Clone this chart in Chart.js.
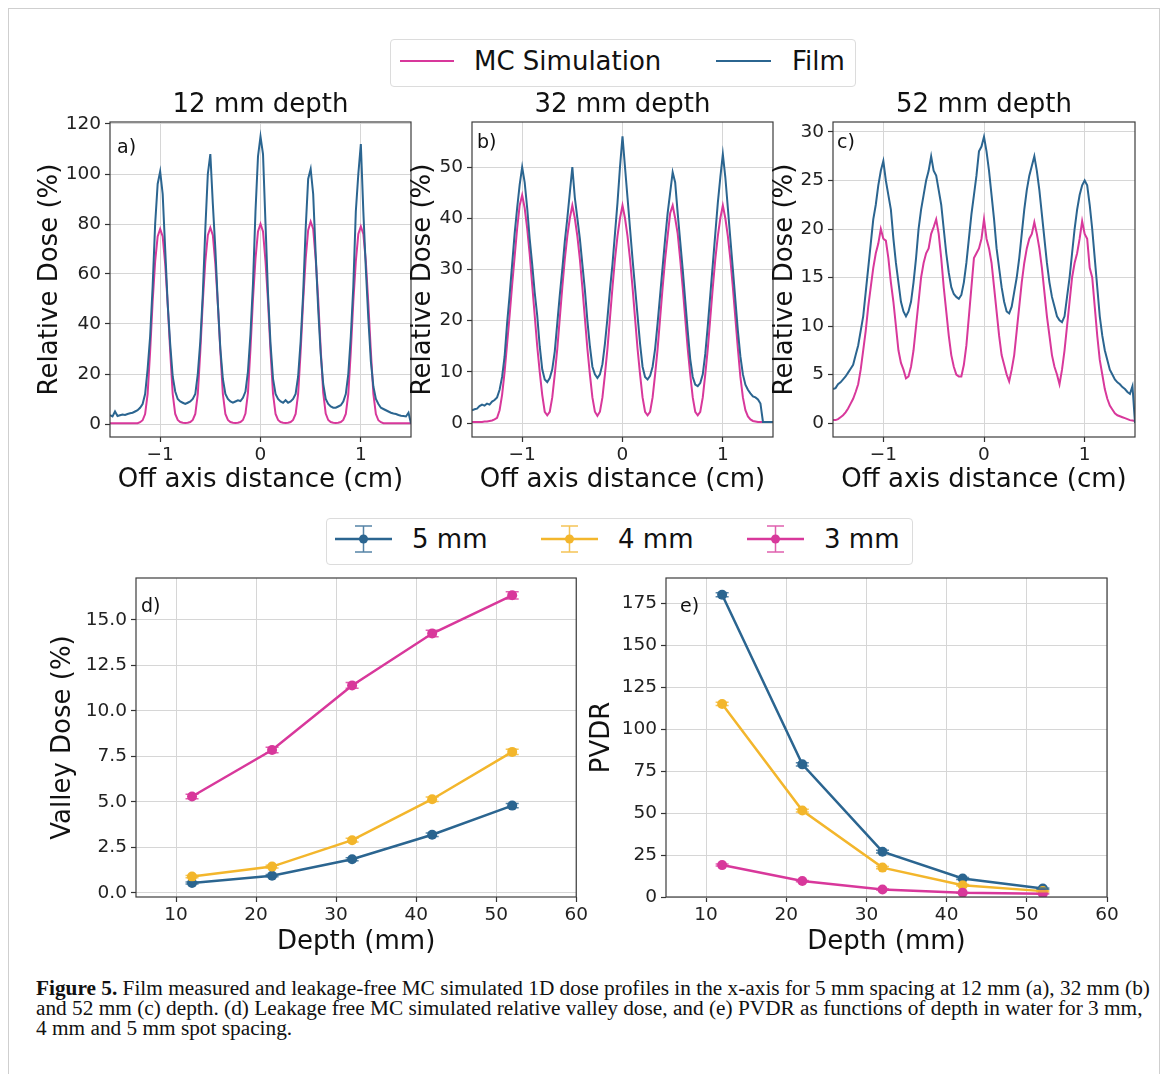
<!DOCTYPE html>
<html lang="en">
<head>
<meta charset="UTF-8">
<title>Figure 5 - dose profiles, valley dose and PVDR</title>
<script src="https://cdn.jsdelivr.net/npm/chart.js"></script>
<style>
    body { margin: 0; width: 1168px; height: 1074px; background: #fff; position: relative; overflow: hidden;
           font-family: 'DejaVu Sans', sans-serif; color: #111; }
    #frame { position: absolute; left: 8px; top: 8px; width: 1150px; height: 1100px; border: 1.5px solid #cfcfcf; }
    canvas { position: absolute; }
    .legend { position: absolute; border: 1px solid #dcdcdc; border-radius: 4px; background: #fff; }
    .txt { position: absolute; font-size: 26px; line-height: 30px; white-space: nowrap; color: #111; }
    .swatch { position: absolute; height: 2px; }
    .handle { position: absolute; }
    .caption { position: absolute; left: 36px; font-family: 'Liberation Serif', serif; font-size: 21.3px;
               line-height: 20px; white-space: nowrap; color: #111; }
</style>
</head>
<body>
<div id="frame"></div>

<div class="legend" style="left:390px;top:39px;width:464px;height:46px;"></div>
<div class="swatch" style="left:400px;top:60px;width:54px;background:#d8389b;"></div>
<div class="txt" style="left:474px;top:46px;">MC Simulation</div>
<div class="swatch" style="left:716px;top:60px;width:55px;background:#2b6590;"></div>
<div class="txt" style="left:792px;top:46px;">Film</div>

<canvas id="chartA" width="406" height="415" style="left:14px;top:85px;"></canvas>
<canvas id="chartB" width="383" height="415" style="left:400px;top:85px;"></canvas>
<canvas id="chartC" width="390" height="415" style="left:760px;top:85px;"></canvas>

<div class="legend" style="left:326px;top:518px;width:585px;height:45px;"></div>
<div id="legend2"></div>

<canvas id="chartD" width="570" height="425" style="left:20px;top:540px;"></canvas>
<canvas id="chartE" width="560" height="425" style="left:570px;top:540px;"></canvas>

<div class="caption" style="top:978px;"><b>Figure 5.</b> Film measured and leakage-free MC simulated 1D dose profiles in the x-axis for 5 mm spacing at 12 mm (a), 32 mm (b)</div>
<div class="caption" style="top:998px;">and 52 mm (c) depth. (d) Leakage free MC simulated relative valley dose, and (e) PVDR as functions of depth in water for 3 mm,</div>
<div class="caption" style="top:1018px;">4 mm and 5 mm spot spacing.</div>

<script>
// off axis positions (cm), shared by all profiles
const POS = [
    -1.5, -1.475, -1.45, -1.425, -1.4, -1.375, -1.35, -1.325, -1.3, -1.275,
    -1.25, -1.225, -1.2, -1.175, -1.15, -1.125, -1.1, -1.075, -1.05, -1.025,
    -1, -0.975, -0.95, -0.925, -0.9, -0.875, -0.85, -0.825, -0.8, -0.775,
    -0.75, -0.725, -0.7, -0.675, -0.65, -0.625, -0.6, -0.575, -0.55, -0.525,
    -0.5, -0.475, -0.45, -0.425, -0.4, -0.375, -0.35, -0.325, -0.3, -0.275,
    -0.25, -0.225, -0.2, -0.175, -0.15, -0.125, -0.1, -0.075, -0.05, -0.025,
    0, 0.025, 0.05, 0.075, 0.1, 0.125, 0.15, 0.175, 0.2, 0.225,
    0.25, 0.275, 0.3, 0.325, 0.35, 0.375, 0.4, 0.425, 0.45, 0.475,
    0.5, 0.525, 0.55, 0.575, 0.6, 0.625, 0.65, 0.675, 0.7, 0.725,
    0.75, 0.775, 0.8, 0.825, 0.85, 0.875, 0.9, 0.925, 0.95, 0.975,
    1, 1.025, 1.05, 1.075, 1.1, 1.125, 1.15, 1.175, 1.2, 1.225,
    1.25, 1.275, 1.3, 1.325, 1.35, 1.375, 1.4, 1.425, 1.45, 1.475,
    1.5
];

// 12 mm depth
const MC_12 = [
    0.3, 0.3, 0.3, 0.3, 0.3, 0.3, 0.3, 0.3, 0.3, 0.3,
    0.3, 0.3, 0.7, 1.5, 4, 12, 29, 49, 65, 75,
    78, 75, 64, 48, 29, 12, 4, 1.6, 0.8, 0.5,
    0.4, 0.5, 0.8, 1.6, 4, 12, 29, 49, 65, 75.5,
    78.5, 75.5, 64, 48, 29, 12, 4, 1.6, 0.8, 0.5,
    0.4, 0.5, 0.8, 1.6, 4.2, 12.5, 30, 50, 66, 77,
    80, 77, 65, 49, 29, 12, 4, 1.6, 0.8, 0.5,
    0.4, 0.5, 0.8, 1.6, 4, 12, 29, 49, 66, 77.5,
    81, 78, 66, 50, 30, 12.5, 4.2, 1.6, 0.8, 0.5,
    0.4, 0.5, 0.8, 1.6, 4, 12, 29, 49, 65, 76,
    79, 76, 65, 48, 29, 12, 4, 1.5, 0.7, 0.3,
    0.3, 0.3, 0.3, 0.3, 0.3, 0.3, 0.3, 0.3, 0.3, 0.3,
    0.3
];
const FILM_12 = [
    3.5, 3.0, 5.0, 3.2, 3.5, 3.8, 3.6, 4.0, 4.3, 4.5,
    5.0, 5.5, 6.5, 8, 12, 22, 35, 55, 80, 96,
    101, 92, 70, 48, 32, 19, 13, 10, 9, 8.5,
    8, 8.5, 9, 10, 12, 20, 33, 52, 78, 100,
    108, 88, 70, 48, 30, 18, 12, 10, 9, 8.5,
    9, 9.5, 9.2, 10.5, 13, 21, 36, 56, 85, 107,
    115, 108, 80, 52, 32, 18, 12, 10, 9, 8.5,
    9.5, 8.5, 9, 10, 12, 19, 33, 52, 78, 98,
    102, 92, 68, 46, 28, 16, 10, 8, 7, 6.5,
    6.5, 7, 7.5, 9, 12, 20, 35, 55, 85, 100,
    112, 85, 62, 42, 25, 15, 10, 8, 6.5, 6,
    5.5, 5, 4.5, 4.2, 4, 3.6, 3.3, 3.2, 3, 4.5,
    0.2
];

// 32 mm depth
const MC_32 = [
    0.2, 0.2, 0.2, 0.2, 0.2, 0.3, 0.3, 0.4, 0.5, 0.7,
    1.0, 2.5, 5.5, 10, 15.5, 21, 27, 32.5, 38, 42.5,
    44.5, 42, 38, 33, 27, 21, 15, 10, 5.5, 2.2,
    1.5, 2.2, 5, 9.5, 14.5, 20.5, 26.5, 32, 36.5, 40,
    42.5, 40, 36.5, 32, 26.5, 20.5, 14.5, 9.5, 5, 2.2,
    1.4, 2.2, 5, 9.5, 14.5, 20.5, 26.5, 32, 36.5, 40,
    42.5, 40, 36.5, 32, 26.5, 20.5, 14.5, 9.5, 5, 2.2,
    1.5, 2.2, 5, 9.5, 14.5, 20.5, 26.5, 32, 36.5, 41,
    42.5, 40, 37, 32, 26.5, 20.5, 14.5, 9.5, 5, 2.2,
    1.5, 2.2, 5, 9.5, 14.5, 20.5, 26.5, 32, 36.5, 40,
    42.5, 40, 36.5, 32, 26.5, 20.5, 14.5, 9, 5, 2.5,
    1.3, 0.7, 0.4, 0.3, 0.2, 0.2, 0.2, 0.2, 0.2, 0.2,
    0.2
];
const FILM_32 = [
    2.5, 2.7, 2.8, 3.3, 3.6, 3.4, 3.8, 3.6, 4.2, 4.5,
    5, 6.5, 9, 13, 19.5, 25, 31, 37, 42, 46.5,
    50, 47, 42, 36, 31, 25.5, 21, 15, 10.5, 8.5,
    8, 8.8, 10.5, 14, 19.5, 25, 30, 35.5, 40, 45,
    50, 44, 40, 36, 31, 26, 20, 15, 11, 9.5,
    8.8, 9.5, 11.5, 15.5, 20.5, 26, 31, 37, 43, 50,
    56, 50, 44, 38, 32, 26.5, 21, 15.5, 11, 9,
    8.5, 9.2, 11, 14.5, 19.5, 25, 30.5, 36, 41, 45,
    49, 47, 41, 35.5, 30, 24, 18, 12.5, 9, 7.5,
    7.2, 7.8, 9.5, 13.5, 19, 25, 31, 37, 43, 48,
    52.5, 48, 42, 36, 30, 24, 18, 13, 9.5, 7.5,
    6.5, 5.8, 5.2, 5, 4.6, 3.8, 0.2, 0.2, 0.2, 0.2,
    0.2
];

// 52 mm depth
const MC_52 = [
    0.3, 0.3, 0.4, 0.6, 0.8, 1.1, 1.5, 2.0, 2.5, 3.2,
    4, 5.5, 7.5, 9.5, 12, 14, 16, 17.5, 18.5, 20,
    19, 18.8, 17, 14.5, 12.5, 10, 7.5, 6.2, 5.5, 4.6,
    4.8, 5.8, 7.5, 10, 12.5, 15, 16.5, 17.5, 18, 19.5,
    20.2, 21, 19.5, 17, 14, 11.5, 9, 7, 5.8, 5,
    4.8, 4.8, 6, 8, 11, 14, 17, 17.5, 18, 19,
    21, 19, 18, 16.5, 14, 11.5, 9, 7, 6, 5,
    4.3, 5.5, 7, 9.5, 12, 14.5, 16.5, 18, 19, 19.5,
    20.7, 19.5, 18, 16, 13.5, 11, 9, 7, 5.8, 5,
    4, 5.5, 7.5, 10, 12.5, 15, 16.5, 17.5, 19, 20.8,
    19.5, 19, 16, 15, 12, 9, 6.5, 5, 3.5, 2.5,
    1.8, 1.4, 1.0, 0.8, 0.7, 0.6, 0.5, 0.4, 0.3, 0.25,
    0.2
];
const FILM_52 = [
    3.5, 3.6, 4, 4.2, 4.5, 4.8, 5.2, 5.6, 6, 7,
    8, 9.5, 11, 13.5, 16, 18.5, 21, 22.5, 24.5, 26,
    27, 25, 23.5, 22, 19, 16.5, 14.5, 12.5, 11.5, 11,
    11.5, 12.5, 14.5, 17, 20, 22, 23.5, 25, 26, 27.5,
    26, 25.5, 24, 22.5, 20, 17.5, 15.5, 14, 13.3, 13,
    12.8, 13.2, 14.5, 16.5, 19, 21.5, 23.5, 25.5, 28, 28.5,
    29.5, 28, 26, 23.5, 21, 18, 16, 14, 12.5, 11.5,
    11.3, 12, 13.5, 15, 17, 19.5, 22, 24, 25.5, 26.5,
    27.5, 26, 24, 21.5, 19, 16.5, 14.5, 13, 12, 11,
    10.6, 10.4, 11, 13, 15, 17.5, 20, 22, 23.5, 24.5,
    25, 24.5, 22.5, 20, 17, 14, 11, 9, 7.5, 6.5,
    5.5, 5, 4.5, 4.2, 4, 3.7, 3.5, 3.2, 3, 3.8,
    0
];

// depth series (mm)
const DEPTHS = [12, 22, 32, 42, 52];
const VALLEY_5MM = [0.55, 0.95, 1.85, 3.2, 4.8];
const VALLEY_4MM = [0.9, 1.45, 2.9, 5.15, 7.75];
const VALLEY_3MM = [5.3, 7.85, 11.4, 14.25, 16.35];
const VALLEY_ERR_5MM = [0.05, 0.06, 0.08, 0.1, 0.12];
const VALLEY_ERR_4MM = [0.06, 0.08, 0.1, 0.12, 0.15];
const VALLEY_ERR_3MM = [0.12, 0.15, 0.16, 0.18, 0.2];
const PVDR_5MM = [180, 79, 27, 11, 5];
const PVDR_4MM = [115, 51.5, 17.5, 7, 3.5];
const PVDR_3MM = [19, 9.5, 4.5, 2.5, 2];
const PVDR_ERR_5MM = [1.2, 1.0, 0.8, 0.6, 0.4];
const PVDR_ERR_4MM = [1.0, 0.8, 0.6, 0.4, 0.3];
const PVDR_ERR_3MM = [0.6, 0.4, 0.3, 0.2, 0.2];

// tick labels
const X_TICKS_PROFILE = [-1, 0, 1];
const Y_TICKS_12 = [0, 20, 40, 60, 80, 100, 120];
const Y_TICKS_32 = [0, 10, 20, 30, 40, 50];
const Y_TICKS_52 = [0, 5, 10, 15, 20, 25, 30];
const X_TICKS_DEPTH = [10, 20, 30, 40, 50, 60];
const Y_TICKS_VALLEY = [0, 2.5, 5, 7.5, 10, 12.5, 15];
const Y_TICKS_PVDR = [0, 25, 50, 75, 100, 125, 150, 175];

const SPACING_LABELS = ['5 mm', '4 mm', '3 mm'];

const BLUE = '#2b6590';
const PINK = '#d8389b';
const GOLD = '#f3b62c';

Chart.defaults.font.family = "'DejaVu Sans', sans-serif";
Chart.defaults.color = '#222';

// frame around the plot area, error bars, panel letter and title
const panelPlugin = {
    id: 'panel',
    afterDatasetsDraw(chart, args, opts) {
        const { ctx, chartArea: a } = chart;
        ctx.save();
        chart.data.datasets.forEach((ds, i) => {
            if (!ds.errors) return;
            const meta = chart.getDatasetMeta(i);
            const ys = chart.scales.y;
            ctx.strokeStyle = ds.borderColor;
            ctx.globalAlpha = 0.8;
            ctx.lineWidth = 1.5;
            meta.data.forEach((pt, j) => {
                const v = ds.data[j].y, e = ds.errors[j];
                const y1 = ys.getPixelForValue(v - e), y2 = ys.getPixelForValue(v + e);
                ctx.beginPath();
                ctx.moveTo(pt.x, y1); ctx.lineTo(pt.x, y2);
                ctx.moveTo(pt.x - 6.5, y1); ctx.lineTo(pt.x + 6.5, y1);
                ctx.moveTo(pt.x - 6.5, y2); ctx.lineTo(pt.x + 6.5, y2);
                ctx.stroke();
            });
        });
        ctx.globalAlpha = 1;
        ctx.strokeStyle = '#3c3c3c';
        ctx.lineWidth = 1.2;
        ctx.strokeRect(a.left, a.top, a.right - a.left, a.bottom - a.top);
        ctx.fillStyle = '#111';
        ctx.textBaseline = 'middle';
        ctx.font = "19px 'DejaVu Sans'";
        ctx.textAlign = 'left';
        ctx.fillText(opts.tag, a.left + opts.tagDx, a.top + opts.tagDy);
        if (opts.title) {
            ctx.font = "26px 'DejaVu Sans'";
            ctx.textAlign = 'center';
            ctx.fillText(opts.title, (a.left + a.right) / 2, a.top - 17);
        }
        ctx.restore();
    }
};

function fmtSigned(v) {
    return v < 0 ? '\u2212' + Math.abs(v) : String(v);
}

function buildScales(g, xMin, xMax, xTicks, xLabel, yMin, yMax, yTicks, yLabel, yFmt) {
    const grid = { color: '#d6d6d6', lineWidth: 1, tickLength: 5, tickColor: '#333', tickWidth: 1.2 };
    return {
        x: {
            type: 'linear', min: xMin, max: xMax,
            afterBuildTicks: s => { s.ticks = xTicks.map(v => ({ value: v })); },
            afterFit: s => { s.height = g.H; },
            grid: grid,
            border: { display: false },
            ticks: { font: { size: 18.5 }, color: '#222', padding: 2, maxRotation: 0, autoSkip: false, callback: fmtSigned },
            title: { display: true, text: xLabel, font: { size: 26 }, color: '#111', padding: { top: 0, bottom: g.xPad } }
        },
        y: {
            type: 'linear', min: yMin, max: yMax,
            afterBuildTicks: s => { s.ticks = yTicks.map(v => ({ value: v })); },
            afterFit: s => { s.width = g.W; },
            grid: grid,
            border: { display: false },
            ticks: { font: { size: 18.5 }, color: '#222', padding: 4, autoSkip: false, callback: yFmt },
            title: { display: true, text: yLabel, font: { size: 26 }, color: '#111', padding: { top: g.yPad, bottom: 0 } }
        }
    };
}

function profileChart(id, mc, film, yMin, yMax, yTicks, title, tag, g) {
    const ctx = document.getElementById(id).getContext('2d');
    return new Chart(ctx, {
        type: 'line',
        data: {
            datasets: [
                { label: 'Film', data: POS.map((x, i) => ({ x: x, y: film[i] })), borderColor: BLUE, borderWidth: 2, pointRadius: 0, tension: 0 },
                { label: 'MC Simulation', data: POS.map((x, i) => ({ x: x, y: mc[i] })), borderColor: PINK, borderWidth: 2, pointRadius: 0, tension: 0 }
            ]
        },
        options: {
            responsive: false,
            animation: false,
            layout: { padding: { top: g.top, right: g.right, left: 0, bottom: 0 } },
            scales: buildScales(g, -1.5, 1.5, X_TICKS_PROFILE, 'Off axis distance (cm)', yMin, yMax, yTicks, 'Relative Dose (%)', v => String(v)),
            plugins: {
                legend: { display: false },
                tooltip: { enabled: false },
                panel: { tag: tag, tagDx: g.tagDx, tagDy: g.tagDy, title: title }
            }
        },
        plugins: [panelPlugin]
    });
}

function depthChart(id, s5, s4, s3, e5, e4, e3, yMin, yMax, yTicks, yLabel, yFmt, tag, g) {
    const ctx = document.getElementById(id).getContext('2d');
    const mk = (label, vals, errs, color) => ({
        label: label,
        data: DEPTHS.map((d, i) => ({ x: d, y: vals[i] })),
        errors: errs,
        borderColor: color, backgroundColor: color,
        borderWidth: 2.5, pointRadius: 5, pointBorderWidth: 0, pointBackgroundColor: color, tension: 0
    });
    return new Chart(ctx, {
        type: 'line',
        data: {
            datasets: [
                mk(SPACING_LABELS[2], s3, e3, PINK),
                mk(SPACING_LABELS[1], s4, e4, GOLD),
                mk(SPACING_LABELS[0], s5, e5, BLUE)
            ]
        },
        options: {
            responsive: false,
            animation: false,
            layout: { padding: { top: g.top, right: g.right, left: 0, bottom: 0 } },
            scales: buildScales(g, 5, 60, X_TICKS_DEPTH, 'Depth (mm)', yMin, yMax, yTicks, yLabel, yFmt),
            plugins: {
                legend: { display: false },
                tooltip: { enabled: false },
                panel: { tag: tag, tagDx: g.tagDx, tagDy: g.tagDy }
            }
        },
        plugins: [panelPlugin]
    });
}

profileChart('chartA', MC_12, FILM_12, -5.2, 120.8, Y_TICKS_12, '12 mm depth', 'a)',
    { W: 96, top: 37, right: 9, H: 63, yPad: 20.4, xPad: 4.4, tagDx: 7, tagDy: 26 });
profileChart('chartB', MC_32, FILM_32, -2.73, 58.8, Y_TICKS_32, '32 mm depth', 'b)',
    { W: 72, top: 37, right: 10, H: 63, yPad: 7.4, xPad: 4.4, tagDx: 5, tagDy: 21 });
profileChart('chartC', MC_52, FILM_52, -1.44, 31.03, Y_TICKS_52, '52 mm depth', 'c)',
    { W: 73, top: 37, right: 15, H: 63, yPad: 9.4, xPad: 4.4, tagDx: 4, tagDy: 21 });

depthChart('chartD', VALLEY_5MM, VALLEY_4MM, VALLEY_3MM, VALLEY_ERR_5MM, VALLEY_ERR_4MM, VALLEY_ERR_3MM,
    -0.22, 17.3, Y_TICKS_VALLEY, 'Valley Dose (%)', v => v.toFixed(1), 'd)',
    { W: 116, top: 38, right: 13, H: 68, yPad: 27.4, xPad: 7.4, tagDx: 5, tagDy: 29 });
depthChart('chartE', PVDR_5MM, PVDR_4MM, PVDR_3MM, PVDR_ERR_5MM, PVDR_ERR_4MM, PVDR_ERR_3MM,
    0, 190, Y_TICKS_PVDR, 'PVDR', v => String(v), 'e)',
    { W: 96, top: 38, right: 23, H: 68, yPad: 16.4, xPad: 7.4, tagDx: 14, tagDy: 29 });

// errorbar legend for the spacing series
const legendItems = [
    { label: SPACING_LABELS[0], color: BLUE, left: 335 },
    { label: SPACING_LABELS[1], color: GOLD, left: 541 },
    { label: SPACING_LABELS[2], color: PINK, left: 747 }
];
const holder = document.getElementById('legend2');
legendItems.forEach(item => {
    holder.insertAdjacentHTML('beforeend',
        '<svg class="handle" style="left:' + item.left + 'px;top:524px" width="57" height="30">' +
        '<line x1="0" y1="15" x2="57" y2="15" stroke="' + item.color + '" stroke-width="2.5"/>' +
        '<g stroke="' + item.color + '" stroke-width="1.5" opacity="0.8">' +
        '<line x1="28.5" y1="2" x2="28.5" y2="28"/><line x1="20" y1="2" x2="37" y2="2"/><line x1="20" y1="28" x2="37" y2="28"/></g>' +
        '<circle cx="28.5" cy="15" r="4.5" fill="' + item.color + '"/></svg>' +
        '<div class="txt" style="left:' + (item.left + 77) + 'px;top:524px;">' + item.label + '</div>');
});
</script>
</body>
</html>
